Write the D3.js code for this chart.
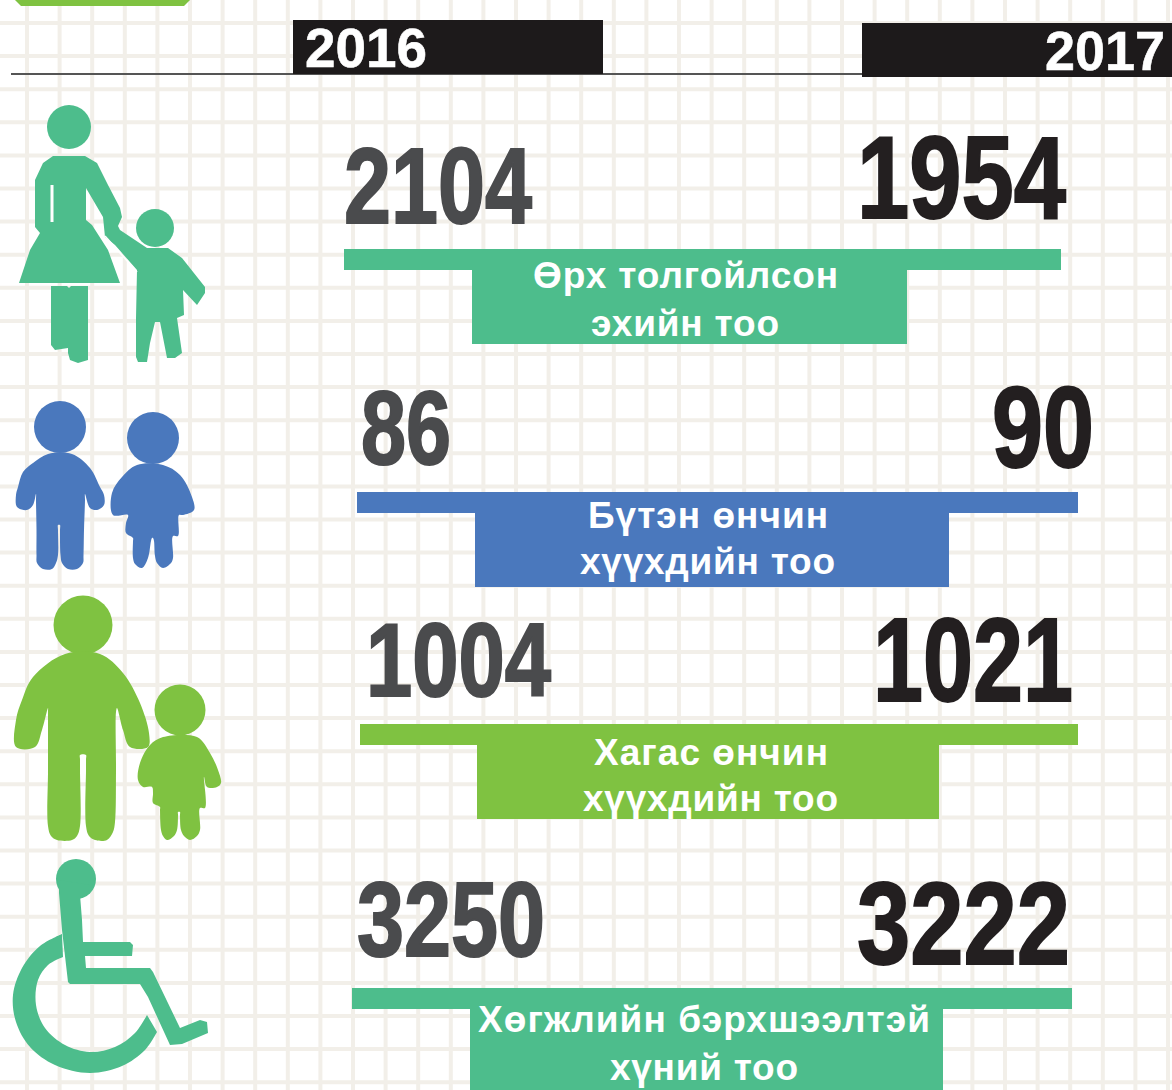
<!DOCTYPE html>
<html><head><meta charset="utf-8"><script src="https://cdnjs.cloudflare.com/ajax/libs/d3/7.8.5/d3.min.js"></script>
<style>html,body{margin:0;padding:0;background:#fff;overflow:hidden}svg{display:block}text{font-family:"Liberation Sans",Arial,sans-serif}</style></head>
<body><svg id="c" width="1172" height="1090"></svg>
<script>
const years=["2016","2017"];
const labels=[["Өрх толгойлсон","эхийн тоо"],["Бүтэн өнчин","хүүхдийн тоо"],["Хагас өнчин","хүүхдийн тоо"],["Хөгжлийн бэрхшээлтэй","хүний тоо"]];
const values2016=[2104,86,1004,3250];
const values2017=[1954,90,1021,3222];
const colors=["#4dbd8c","#4a78bd","#7fc241","#4dbd8c"];
const barTop=[249,492,724,988];
const barL=[344,357,360,352],barR=[1061,1078,1078,1072];
const boxL=[472,475,477,470],boxR=[907,949,939,943],boxB=[344,587,819,1090];
// x0, x1, baseline, digit height
const num16=[[344,532,224,80],[361,451,465,78],[366,551,697,78],[357,545,957,79]];
const num17=[[857,1066,219,88],[992,1094,468,86],[873,1073,702,89],[857,1070,965,87]];
const labBase=[[288,336],[528,574],[765,811],[1032,1080]];
const labSpan=[[[533,838],[591,779]],[[588,828],[580,835]],[[594,828],[583,838]],[[478,930],[610,798]]];
const svg=d3.select("#c");
const gridX=d3.range(0,37).map(i=>27+i*32.6),gridY=d3.range(0,34).map(i=>23+i*33.1);
const gridC="#f2efe9";
svg.append("g").attr("stroke",gridC).attr("stroke-width",4).selectAll("line").data(gridX).join("line").attr("x1",d=>d).attr("x2",d=>d).attr("y1",0).attr("y2",1090);
svg.append("g").attr("stroke",gridC).attr("stroke-width",4).selectAll("line").data(gridY).join("line").attr("y1",d=>d).attr("y2",d=>d).attr("x1",0).attr("x2",1172);
svg.append("path").attr("d","M15 0L21 6H184L190 0Z").attr("fill","#7fc241");
svg.append("line").attr("x1",11).attr("x2",862).attr("y1",74).attr("y2",74).attr("stroke","#555").attr("stroke-width",2.2);
svg.append("rect").attr("x",293).attr("y",20).attr("width",310).attr("height",54).attr("fill","#1d1a1b");
svg.append("rect").attr("x",862).attr("y",23).attr("width",310).attr("height",54).attr("fill","#1d1a1b");
function fit(s,x0,x1,base,size,fill,sw){
  return svg.append("text").attr("x",x0).attr("y",base).text(s).attr("fill",fill).attr("stroke",fill).attr("stroke-width",sw)
    .attr("font-weight",700).attr("font-size",size).attr("textLength",x1-x0).attr("lengthAdjust","spacingAndGlyphs");
}
fit(years[0],305,427,67,56,"#fff",.6);
fit(years[1],1045,1165,70,56,"#fff",.6);
values2016.forEach((v,i)=>{
  const c=colors[i];
  svg.append("rect").attr("x",barL[i]).attr("y",barTop[i]).attr("width",barR[i]-barL[i]).attr("height",21).attr("fill",c);
  svg.append("rect").attr("x",boxL[i]).attr("y",barTop[i]).attr("width",boxR[i]-boxL[i]).attr("height",boxB[i]-barTop[i]).attr("fill",c);
  fit(v,num16[i][0],num16[i][1],num16[i][2]-1,num16[i][3]/.75,"#4a4b4d",2);
  fit(values2017[i],num17[i][0],num17[i][1],num17[i][2]-1,num17[i][3]/.75,"#231f20",2);
  labels[i].forEach((s,j)=>fit(s,labSpan[i][j][0],labSpan[i][j][1],labBase[i][j],37,"#fff",0)
    .style("font-family",'"Liberation Sans Narrow","Liberation Sans",sans-serif').attr("lengthAdjust","spacing"));
});
// pictograms
const icons=svg.append("g");
const straight=d3.line(), round=d3.line().curve(d3.curveCatmullRomClosed.alpha(.5)), open=d3.line().curve(d3.curveCatmullRom.alpha(.5));
function poly(p,c,gen){icons.append("path").attr("d",(gen||straight)(p)+(gen?"":"Z")).attr("fill",c);}
function head(x,y,r,c){icons.append("circle").attr("cx",x).attr("cy",y).attr("r",r).attr("fill",c);}
const g1=colors[0],b=colors[1],g2=colors[2],g3=colors[3];
head(69,127,22,g1);
poly([[53,156],[85,156],[97,163],[108,185],[120,208],[122,217],[118,226],[120,230],[147,248],[168,248],[182,258],[205,287],[205,293],[197,305],[183,290],[184,315],[177,318],[182,353],[175,358],[167,358],[160,322],[155,322],[150,343],[147,362],[138,362],[136,357],[136,318],[137,270],[115,245],[105,237],[103,217],[86,188],[86,220],[92,225],[108,250],[120,283],[19,283],[30,250],[40,233],[35,227],[35,180],[43,163]],g1);
icons.append("path").attr("d","M105 236L137 272").attr("stroke","#fff").attr("stroke-width",1.5);
icons.append("rect").attr("x",50.5).attr("y",185).attr("width",3).attr("height",37).attr("fill","#fff");
poly([[51,286],[67,286],[69,288],[71,286],[88,286],[88,360],[78,363],[70,360],[68,353],[68,348],[55,350],[51,345]],g1);
head(155,228,19,g1);
head(60,427,26,b);
poly([[48,454],[72,454],[90,468],[100,487],[104,495],[104,505],[97,510],[90,508],[85,494],[85,500],[84,530],[83.5,556],[83,563],[77,569],[68,569],[62,563],[60.5,555],[60,530],[60,525],[58,525],[58,530],[58,555],[56,563],[52,569],[43,569],[37,563],[36.5,555],[36.5,530],[36,500],[36,494],[33,505],[27,510],[17,507],[16,495],[18,487],[23,472],[33,463]],b,round);
head(153,438,26,b);
poly([[137,465],[163,465],[180,475],[192,497],[194,510],[183,515],[179,515],[178,536],[173,536],[173,558],[171,563],[163,568],[157,563],[155,556],[154,541],[153,538],[152,538],[151,541],[148,558],[142,568],[135,564],[133,558],[133,541],[133,538],[126,533],[126,523],[128,515],[113,515],[112,493],[122,477]],b,round);
head(83,625,29.5,g2);
poly([[65,654],[100,654],[123,673],[140,703],[149,733],[148,747],[130,747],[123,730],[117,708],[116,712],[116,770],[115,822],[113,832],[107,840],[95,840],[89,836],[86,826],[86,770],[86,759],[86,755],[80,755],[80,759],[80,770],[80,826],[77,836],[72,840],[57,840],[51,836],[48,826],[48,770],[48,712],[48,708],[42,730],[35,747],[16,747],[16,720],[22,700],[33,677]],g2,round);
head(180,710,25.5,g2);
poly([[163,737],[197,737],[210,753],[218,770],[221,783],[217,787],[207,787],[204,777],[205,808],[200,808],[200,830],[197,836],[190,840],[184,836],[181,830],[180,815],[180,812],[178,812],[178,815],[177,830],[174,836],[167,840],[163,836],[161,830],[160,810],[160,807],[153,803],[153,793],[152,787],[143,787],[138,780],[140,763],[150,745]],g2,round);
head(76,879,20,g3);
poly([[59,880],[59,893],[62,930],[68,982],[70,984],[140,984],[148,997],[170,1045],[182,1044],[208,1033],[207,1022],[200,1020],[180,1028],[153,972],[150,968],[86,968],[85,956],[132,956],[133,945],[130,942],[83,942],[82,920],[80,895],[90,885]],g3);
const ringOuter=[[62,934],[40,946],[22,968],[13,995],[16,1022],[30,1047],[55,1065],[90,1073],[122,1066],[145,1050],[157,1032]];
const ringInner=[[147,1015],[135,1033],[115,1047],[90,1052],[65,1045],[45,1028],[36,1005],[38,980],[48,965],[63,957]];
icons.append("path").attr("d",open(ringOuter)+"L"+open(ringInner).slice(1)+"Z").attr("fill",g3);
</script></body></html>
